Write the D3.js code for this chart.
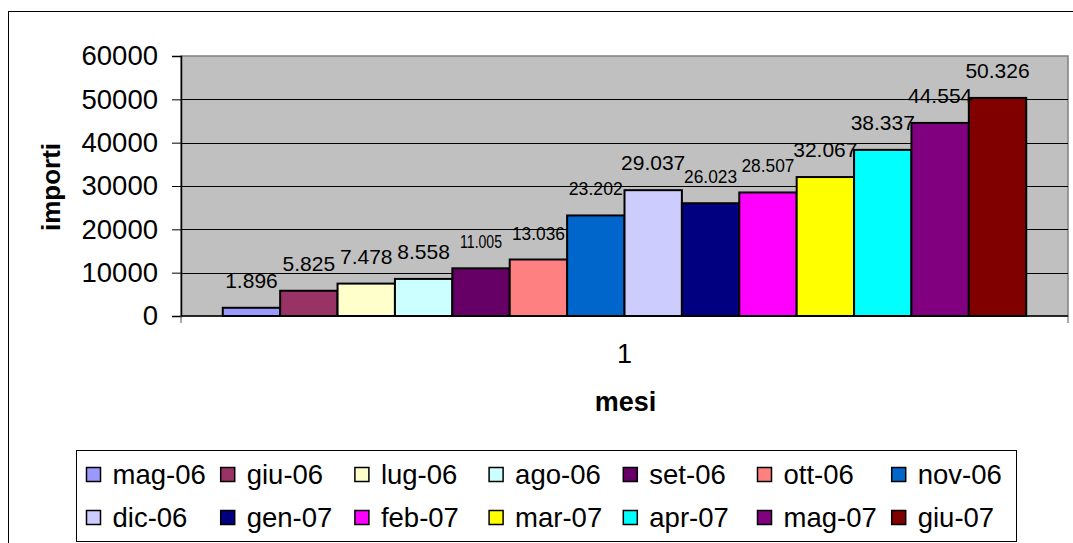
<!DOCTYPE html>
<html>
<head>
<meta charset="utf-8">
<script src="https://cdn.jsdelivr.net/npm/d3@7"></script>
<style>
  html, body { margin: 0; padding: 0; background: #fff; }
  svg { display: block; font-family: "Liberation Sans", Arial, sans-serif; }
</style>
</head>
<body>
<svg id="chart" width="1073" height="543"></svg>
<script>
// ---- data ----
const categories = ["1"];
const months = ["mag-06","giu-06","lug-06","ago-06","set-06","ott-06","nov-06",
                "dic-06","gen-07","feb-07","mar-07","apr-07","mag-07","giu-07"];
const values = [1896, 5825, 7478, 8558, 11005, 13036, 23202,
                29037, 26023, 28507, 32067, 38337, 44554, 50326];
const yTicks = [0, 10000, 20000, 30000, 40000, 50000, 60000];
const colors = ["#9999FF","#993366","#FFFFCC","#CCFFFF","#660066","#FF8080","#0066CC",
                "#CCCCFF","#000080","#FF00FF","#FFFF00","#00FFFF","#800080","#800000"];
const yTitle = "importi";
const xTitle = "mesi";

// ---- style: some data labels are rendered condensed in the original ----
const condensedLabels = {"set-06": 42, "ott-06": 53, "nov-06": 54, "gen-07": 53, "feb-07": 53};

// ---- layout ----
const svg = d3.select("#chart");
const plot = {left: 181, right: 1068, top: 56, bottom: 316};

// outer chart border
svg.append("rect")
  .attr("x", 8.5).attr("y", 11.5)
  .attr("width", 1100).attr("height", 600)
  .attr("fill", "#fff").attr("stroke", "#000").attr("stroke-width", 1);

const x0 = d3.scaleBand().domain(categories).range([plot.left, plot.right])
  .paddingInner(0).paddingOuter(0.052);
const x1 = d3.scaleBand().domain(months).range([0, x0.bandwidth()]).padding(0);
const y = d3.scaleLinear().domain([0, 60000]).range([plot.bottom, plot.top]);
const color = d3.scaleOrdinal().domain(months).range(colors);
const fmt = d3.formatLocale({decimal: ",", thousands: ".", grouping: [3], currency: ["", "€"]}).format(",");

// plot background
svg.append("rect")
  .attr("x", plot.left).attr("y", plot.top)
  .attr("width", plot.right - plot.left).attr("height", plot.bottom - plot.top)
  .attr("fill", "#C0C0C0").attr("stroke", "#808080").attr("stroke-width", 1.5);

// gridlines
svg.append("g").selectAll("line")
  .data(yTicks.filter(t => t > 0 && t < 60000))
  .join("line")
  .attr("x1", plot.left).attr("x2", plot.right)
  .attr("y1", d => Math.round(y(d)) + 0.5).attr("y2", d => Math.round(y(d)) + 0.5)
  .attr("stroke", "#000").attr("stroke-width", 1);

// bars
const g = svg.append("g");
categories.forEach(cat => {
  const gx = x0(cat);
  const rows = months.map((m, i) => ({m, v: values[i]}));
  g.selectAll("rect.bar").data(rows)
    .join("rect").attr("class", "bar")
    .attr("x", d => gx + x1(d.m))
    .attr("y", d => y(d.v))
    .attr("width", x1.bandwidth())
    .attr("height", d => y(0) - y(d.v))
    .attr("fill", d => color(d.m))
    .attr("stroke", "#000").attr("stroke-width", 2);
  const lbl = g.selectAll("text.lbl").data(rows)
    .join("text").attr("class", "lbl")
    .attr("x", d => gx + x1(d.m) + x1.bandwidth() / 2)
    .attr("y", d => y(d.v) - 20)
    .attr("text-anchor", "middle")
    .attr("font-size", d => condensedLabels[d.m] ? 19 : 21)
    .attr("fill", "#000")
    .text(d => fmt(d.v));
  lbl.filter(d => condensedLabels[d.m])
    .attr("textLength", d => condensedLabels[d.m])
    .attr("lengthAdjust", "spacingAndGlyphs");
});

// y axis
const yAxis = d3.axisLeft(y).tickValues(yTicks).tickSize(9).tickPadding(14).tickFormat(d3.format("d"));
const ya = svg.append("g").attr("transform", `translate(${plot.left},0)`).call(yAxis);
ya.select(".domain").attr("stroke", "#000").attr("stroke-width", 1.5);
ya.selectAll(".tick line").attr("stroke", "#000");
ya.selectAll("text").attr("font-size", 27.5).attr("fill", "#000")
  .attr("font-family", "'Liberation Sans', Arial, sans-serif");

// x axis
const xa = svg.append("g").attr("transform", `translate(0,${plot.bottom})`)
  .call(d3.axisBottom(x0).tickSize(0).tickPadding(30));
xa.select(".domain").remove();
xa.append("line").attr("x1", plot.left).attr("x2", plot.right).attr("y1", 0).attr("y2", 0)
  .attr("stroke", "#000").attr("stroke-width", 1.5);
xa.selectAll("line.edge").data([plot.left, plot.right]).join("line").attr("class", "edge")
  .attr("x1", d => d).attr("x2", d => d).attr("y1", 0).attr("y2", 7)
  .attr("stroke", "#555").attr("stroke-width", 1);
xa.selectAll(".tick text").attr("font-size", 27).attr("fill", "#000")
  .attr("font-family", "'Liberation Sans', Arial, sans-serif").attr("dy", "0.71em").attr("y", 28);

// axis titles
svg.append("text")
  .attr("transform", `translate(60,187) rotate(-90)`)
  .attr("text-anchor", "middle").attr("font-weight", "bold").attr("font-size", 26)
  .text(yTitle);
svg.append("text")
  .attr("x", (plot.left + plot.right) / 2 + 1).attr("y", 411)
  .attr("text-anchor", "middle").attr("font-weight", "bold").attr("font-size", 27)
  .text(xTitle);

// legend
const legend = svg.append("g");
legend.append("rect").attr("x", 76.5).attr("y", 450.5).attr("width", 940).attr("height", 91)
  .attr("fill", "#fff").attr("stroke", "#000").attr("stroke-width", 1);
const colX = d3.scaleLinear().domain([0, 7]).range([86.5, 86.5 + 7 * 134.2]);
const rowY = d3.scaleLinear().domain([0, 1]).range([467.5, 510.5]);
const items = legend.selectAll("g.item").data(months).join("g").attr("class", "item")
  .attr("transform", (d, i) => `translate(${colX(i % 7)},${rowY(Math.floor(i / 7))})`);
items.append("rect").attr("width", 14).attr("height", 14)
  .attr("fill", d => color(d)).attr("stroke", "#000").attr("stroke-width", 1.5);
items.append("text").attr("x", 26).attr("y", 16).attr("font-size", 27.5).attr("fill", "#000")
  .text(d => d);
</script>
</body>
</html>
